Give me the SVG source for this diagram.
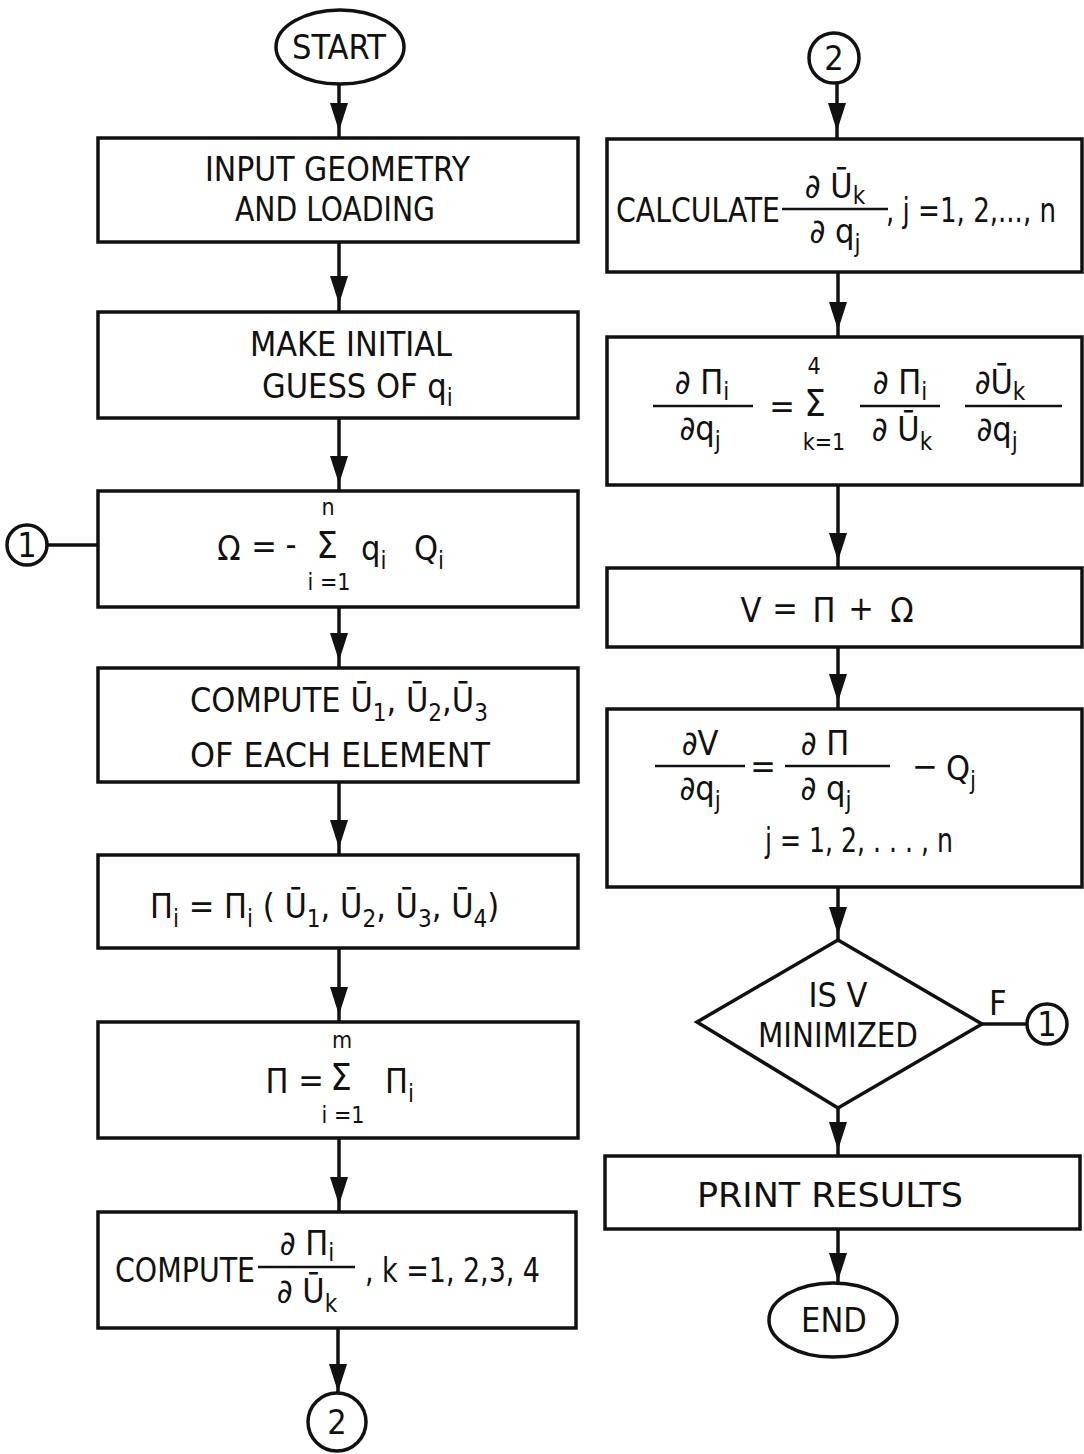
<svg xmlns="http://www.w3.org/2000/svg" width="1084" height="1454" viewBox="0 0 1084 1454">
<style>
  .box{fill:none;stroke:#111;stroke-width:3.5}
  .ln{fill:none;stroke:#111;stroke-width:3.5}
  .bar{stroke:#111;stroke-width:2.5}
  text{font-family:"DejaVu Sans Condensed","DejaVu Sans","Liberation Sans",sans-serif;fill:#111;font-size:34px}
  .m{text-anchor:middle}
  .sm{font-size:24px}
  .lim{font-size:23px}
  .sg{font-size:38px}
</style>
<defs>
  <path id="ah" d="M0,0 L-9,-28 L9,-28 Z" fill="#111"/>
</defs>
<rect x="0" y="0" width="1084" height="1454" fill="#fff"/>

<g id="connectors">
  <line class="ln" x1="339" y1="84" x2="339" y2="138"/>
  <use href="#ah" x="339" y="131"/>
  <line class="ln" x1="339" y1="242" x2="339" y2="312"/>
  <use href="#ah" x="339" y="304"/>
  <line class="ln" x1="339" y1="418" x2="339" y2="491"/>
  <use href="#ah" x="339" y="484"/>
  <line class="ln" x1="339" y1="607" x2="339" y2="668"/>
  <use href="#ah" x="339" y="661"/>
  <line class="ln" x1="339" y1="782" x2="339" y2="855"/>
  <use href="#ah" x="339" y="848"/>
  <line class="ln" x1="339" y1="948" x2="339" y2="1022"/>
  <use href="#ah" x="339" y="1015"/>
  <line class="ln" x1="339" y1="1138" x2="339" y2="1212"/>
  <use href="#ah" x="339" y="1205"/>
  <line class="ln" x1="338" y1="1328" x2="338" y2="1393"/>
  <use href="#ah" x="338" y="1392"/>
  <line class="ln" x1="47" y1="545" x2="98" y2="545"/>

  <line class="ln" x1="837" y1="84" x2="837" y2="139"/>
  <use href="#ah" x="837" y="131"/>
  <line class="ln" x1="838" y1="272" x2="838" y2="337"/>
  <use href="#ah" x="838" y="330"/>
  <line class="ln" x1="838" y1="485" x2="838" y2="568"/>
  <use href="#ah" x="838" y="561"/>
  <line class="ln" x1="838" y1="647" x2="838" y2="709"/>
  <use href="#ah" x="838" y="702"/>
  <line class="ln" x1="838" y1="887" x2="838" y2="940"/>
  <use href="#ah" x="838" y="935"/>
  <line class="ln" x1="838" y1="1108" x2="838" y2="1156"/>
  <use href="#ah" x="838" y="1150"/>
  <line class="ln" x1="838" y1="1229" x2="838" y2="1283"/>
  <use href="#ah" x="838" y="1281"/>
  <line class="ln" x1="982" y1="1024" x2="1028" y2="1024"/>
</g>

<g id="start">
  <ellipse class="box" cx="340" cy="47" rx="64" ry="37"/>
  <text x="292" y="59" textLength="94" lengthAdjust="spacingAndGlyphs">START</text>
</g>

<g id="input">
  <rect class="box" x="98" y="138" width="480" height="104"/>
  <text x="205" y="181" textLength="265" lengthAdjust="spacingAndGlyphs">INPUT GEOMETRY</text>
  <text x="235" y="221" textLength="200" lengthAdjust="spacingAndGlyphs">AND LOADING</text>
</g>

<g id="guess">
  <rect class="box" x="98" y="312" width="480" height="106"/>
  <text x="250" y="356" textLength="202" lengthAdjust="spacingAndGlyphs">MAKE INITIAL</text>
  <text x="262" y="398">GUESS OF q<tspan class="sm" dy="8">i</tspan></text>
</g>

<g id="conn1">
  <circle class="box" cx="27" cy="545" r="20"/>
  <text class="m" x="27" y="557">1</text>
</g>

<g id="omega">
  <rect class="box" x="98" y="491" width="480" height="116"/>
  <text class="m" x="229" y="560">Ω</text>
  <text class="m" x="264" y="558">=</text>
  <text class="m" x="291" y="556">-</text>
  <text class="m sg" x="327" y="558">Σ</text>
  <text class="m lim" x="328" y="515">n</text>
  <text class="m lim" x="329" y="590">i =1</text>
  <text x="361" y="560">q<tspan class="sm" dy="9">i</tspan></text>
  <text x="414" y="560">Q<tspan class="sm" dy="9">i</tspan></text>
</g>

<g id="computeU">
  <rect class="box" x="98" y="668" width="480" height="114"/>
  <text x="190" y="712">COMPUTE  Ū<tspan class="sm" dy="9">1</tspan><tspan dy="-9">, Ū</tspan><tspan class="sm" dy="9">2</tspan><tspan dy="-9">,Ū</tspan><tspan class="sm" dy="9">3</tspan></text>
  <text x="190" y="767" textLength="300" lengthAdjust="spacingAndGlyphs">OF  EACH  ELEMENT</text>
</g>

<g id="pii">
  <rect class="box" x="98" y="855" width="480" height="93"/>
  <text x="150" y="918">Π<tspan class="sm" dy="9">i</tspan><tspan dy="-9"> =   Π</tspan><tspan class="sm" dy="9">i</tspan><tspan dy="-9"> ( Ū</tspan><tspan class="sm" dy="9">1</tspan><tspan dy="-9">,  Ū</tspan><tspan class="sm" dy="9">2</tspan><tspan dy="-9">, Ū</tspan><tspan class="sm" dy="9">3</tspan><tspan dy="-9">, Ū</tspan><tspan class="sm" dy="9">4</tspan><tspan dy="-9">)</tspan></text>
</g>

<g id="pisum">
  <rect class="box" x="98" y="1022" width="480" height="116"/>
  <text class="m" x="277" y="1093">Π</text>
  <text class="m" x="311" y="1092">=</text>
  <text class="m sg" x="341" y="1090">Σ</text>
  <text class="m lim" x="342" y="1048">m</text>
  <text class="m lim" x="343" y="1123">i =1</text>
  <text x="385" y="1093">Π<tspan class="sm" dy="9">i</tspan></text>
</g>

<g id="computeD">
  <rect class="box" x="98" y="1212" width="478" height="116"/>
  <text x="115" y="1282" textLength="140" lengthAdjust="spacingAndGlyphs">COMPUTE</text>
  <line class="bar" x1="258" y1="1267" x2="355" y2="1267"/>
  <text class="m" x="307" y="1255">∂ Π<tspan class="sm" dy="6">i</tspan></text>
  <text class="m" x="307" y="1303">∂ Ū<tspan class="sm" dy="9">k</tspan></text>
  <text x="365" y="1282" textLength="175" lengthAdjust="spacingAndGlyphs">, k =1, 2,3, 4</text>
</g>

<g id="conn2b">
  <circle class="box" cx="337" cy="1422" r="29"/>
  <text class="m" x="337" y="1434">2</text>
</g>

<g id="conn2t">
  <circle class="box" cx="834" cy="58" r="25"/>
  <text class="m" x="834" y="70">2</text>
</g>

<g id="calc">
  <rect class="box" x="607" y="139" width="475" height="133"/>
  <text x="616" y="222" textLength="164" lengthAdjust="spacingAndGlyphs">CALCULATE</text>
  <line class="bar" x1="782" y1="209" x2="888" y2="209"/>
  <text class="m" x="835" y="198">∂ Ū<tspan class="sm" dy="6">k</tspan></text>
  <text class="m" x="835" y="243">∂ q<tspan class="sm" dy="9">j</tspan></text>
  <text x="886" y="222" textLength="170" lengthAdjust="spacingAndGlyphs">, j =1, 2,..., n</text>
</g>

<g id="chain">
  <rect class="box" x="607" y="337" width="475" height="148"/>
  <line class="bar" x1="653" y1="406" x2="753" y2="406"/>
  <text class="m" x="702" y="394">∂ Π<tspan class="sm" dy="6">i</tspan></text>
  <text class="m" x="700" y="440">∂q<tspan class="sm" dy="9">j</tspan></text>
  <text class="m" x="782" y="418">=</text>
  <text class="m sg" x="815" y="416">Σ</text>
  <text class="m lim" x="814" y="374">4</text>
  <text class="m lim" x="824" y="450">k=1</text>
  <line class="bar" x1="860" y1="406" x2="940" y2="406"/>
  <text class="m" x="900" y="394">∂ Π<tspan class="sm" dy="6">i</tspan></text>
  <text class="m" x="902" y="441">∂ Ū<tspan class="sm" dy="9">k</tspan></text>
  <line class="bar" x1="965" y1="406" x2="1062" y2="406"/>
  <text class="m" x="1000" y="394">∂Ū<tspan class="sm" dy="6">k</tspan></text>
  <text class="m" x="997" y="441">∂q<tspan class="sm" dy="9">j</tspan></text>
</g>

<g id="vsum">
  <rect class="box" x="607" y="568" width="475" height="79"/>
  <text class="m" x="751" y="622">V</text>
  <text class="m" x="785" y="620">=</text>
  <text class="m" x="824" y="622">Π</text>
  <text class="m" x="861" y="620">+</text>
  <text class="m" x="902" y="622">Ω</text>
</g>

<g id="dv">
  <rect class="box" x="607" y="709" width="475" height="178"/>
  <line class="bar" x1="655" y1="766" x2="745" y2="766"/>
  <text class="m" x="700" y="755">∂V</text>
  <text class="m" x="700" y="800">∂q<tspan class="sm" dy="9">j</tspan></text>
  <text class="m" x="763" y="778">=</text>
  <line class="bar" x1="785" y1="766" x2="890" y2="766"/>
  <text class="m" x="825" y="755">∂ Π</text>
  <text class="m" x="826" y="800">∂ q<tspan class="sm" dy="9">j</tspan></text>
  <text class="m" x="925" y="778">−</text>
  <text x="946" y="780">Q<tspan class="sm" dy="9">j</tspan></text>
  <text x="765" y="852" textLength="188" lengthAdjust="spacingAndGlyphs">j = 1, 2, . . . , n</text>
</g>

<g id="decision">
  <polygon class="box" points="838,940 982,1024 838,1108 697,1022"/>
  <text class="m" x="838" y="1007">IS  V</text>
  <text class="m" x="838" y="1047" textLength="160" lengthAdjust="spacingAndGlyphs">MINIMIZED</text>
  <text x="989" y="1015">F</text>
</g>

<g id="conn1r">
  <circle class="box" cx="1047" cy="1024" r="20"/>
  <text class="m" x="1047" y="1036">1</text>
</g>

<g id="print">
  <rect class="box" x="605" y="1156" width="475" height="73"/>
  <text class="m" x="830" y="1207" textLength="266" lengthAdjust="spacingAndGlyphs">PRINT  RESULTS</text>
</g>

<g id="end">
  <ellipse class="box" cx="833" cy="1320" rx="64" ry="37"/>
  <text class="m" x="834" y="1332">END</text>
</g>
</svg>
